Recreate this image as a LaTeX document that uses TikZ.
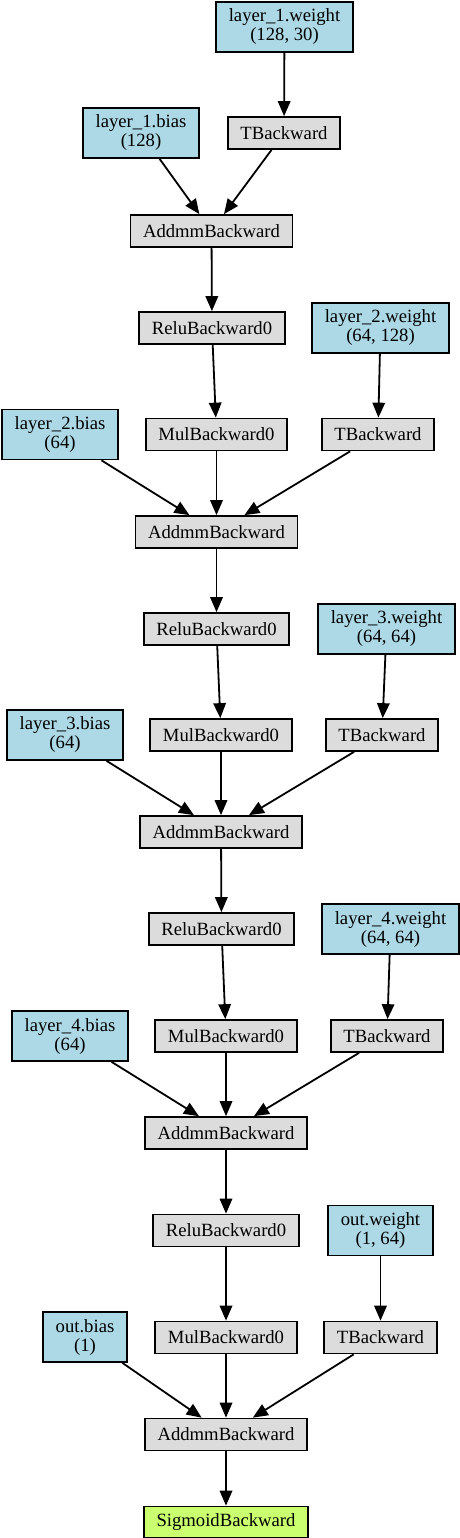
\documentclass[tikz,border=0pt]{standalone}
\usepackage{fontspec}
\setmainfont{Liberation Serif}
\usetikzlibrary{arrows.meta}
\definecolor{paramblue}{HTML}{ADD8E6}
\definecolor{opgrey}{HTML}{DCDCDC}
\definecolor{outgreen}{HTML}{CAFF70}
\tikzset{
  box/.style={draw=black, line width=1.7pt, inner xsep=12.7pt, inner ysep=0pt,
    align=center, font=\fontsize{18.67}{19}\selectfont, text=black},
  opnode/.style={box, fill=opgrey, minimum height=32pt},
  paramnode/.style={box, fill=paramblue, minimum height=50pt},
  outnode/.style={box, fill=outgreen, minimum height=31pt},
  edge/.style={draw=black, line width=1.8pt, -{Triangle[length=15pt,width=12.5pt]}}
}
\begin{document}
\begin{tikzpicture}[x=1pt,y=1pt]
\useasboundingbox (0,0) rectangle (460,-1538);
% block 1
\node[paramnode] (w1) at (284.5,-27) {layer\_1.weight\\(128, 30)};
\node[opnode] (t1) at (284,-133) {TBackward};
\node[paramnode] (b1) at (141,-133) {layer\_1.bias\\(128)};
\node[opnode] (a1) at (211.5,-231) {AddmmBackward};
% block 2
\node[opnode] (r1) at (212,-328) {ReluBackward0};
\node[paramnode] (w2) at (380.5,-328) {layer\_2.weight\\(64, 128)};
\node[paramnode] (b2) at (60,-434.5) {layer\_2.bias\\(64)};
\node[opnode] (m1) at (216.5,-434.5) {MulBackward0};
\node[opnode] (t2) at (378,-434.5) {TBackward};
\node[opnode] (a2) at (216.5,-532) {AddmmBackward};
% block 3
\node[opnode] (r2) at (216.5,-629) {ReluBackward0};
\node[paramnode] (w3) at (386.5,-629) {layer\_3.weight\\(64, 64)};
\node[paramnode] (b3) at (65,-735) {layer\_3.bias\\(64)};
\node[opnode] (m2) at (221,-735) {MulBackward0};
\node[opnode] (t3) at (382,-735) {TBackward};
\node[opnode] (a3) at (221,-832) {AddmmBackward};
% block 4
\node[opnode] (r3) at (221.5,-929) {ReluBackward0};
\node[paramnode] (w4) at (390.5,-929) {layer\_4.weight\\(64, 64)};
\node[paramnode] (b4) at (70,-1036) {layer\_4.bias\\(64)};
\node[opnode] (m3) at (226,-1036) {MulBackward0};
\node[opnode] (t4) at (387,-1036) {TBackward};
\node[opnode] (a4) at (226,-1133) {AddmmBackward};
% block 5
\node[opnode] (r4) at (226,-1230.5) {ReluBackward0};
\node[paramnode] (w5) at (380.5,-1230.5) {out.weight\\(1, 64)};
\node[paramnode] (b5) at (85,-1337) {out.bias\\(1)};
\node[opnode] (m4) at (226,-1337.5) {MulBackward0};
\node[opnode] (t5) at (380.5,-1337.5) {TBackward};
\node[opnode] (a5) at (226,-1434.5) {AddmmBackward};
\node[outnode] (s) at (226,-1522) {SigmoidBackward};
% edges
\draw[edge] (w1) -- (t1);
\draw[edge] (b1) -- (a1);
\draw[edge] (t1) -- (a1);
\draw[edge] (a1) -- (r1);
\draw[edge] (r1) -- (m1);
\draw[edge] (w2) -- (t2);
\draw[edge] (b2) -- (a2);
\draw[edge] (m1) -- (a2);
\draw[edge] (t2) -- (a2);
\draw[edge] (a2) -- (r2);
\draw[edge] (r2) -- (m2);
\draw[edge] (w3) -- (t3);
\draw[edge] (b3) -- (a3);
\draw[edge] (m2) -- (a3);
\draw[edge] (t3) -- (a3);
\draw[edge] (a3) -- (r3);
\draw[edge] (r3) -- (m3);
\draw[edge] (w4) -- (t4);
\draw[edge] (b4) -- (a4);
\draw[edge] (m3) -- (a4);
\draw[edge] (t4) -- (a4);
\draw[edge] (a4) -- (r4);
\draw[edge] (r4) -- (m4);
\draw[edge] (w5) -- (t5);
\draw[edge] (b5) -- (a5);
\draw[edge] (m4) -- (a5);
\draw[edge] (t5) -- (a5);
\draw[edge] (a5) -- (s);
\end{tikzpicture}
\end{document}
